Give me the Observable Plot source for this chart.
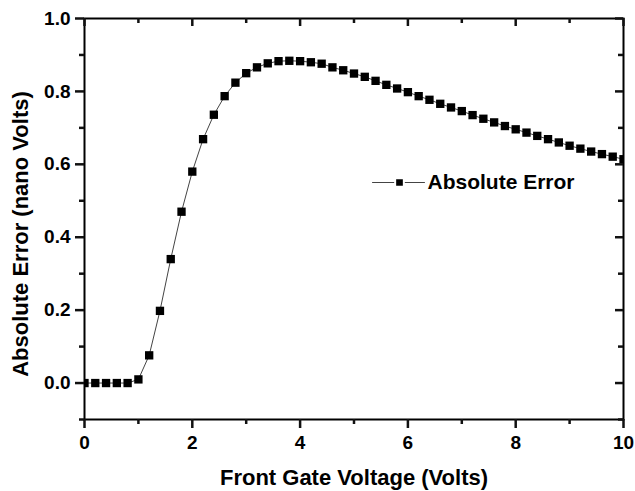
<!DOCTYPE html>
<html>
<head>
<meta charset="utf-8">
<script src="https://cdn.jsdelivr.net/npm/d3@7"></script>
<script src="https://cdn.jsdelivr.net/npm/@observablehq/plot@0.6"></script>
<style>
  html, body { margin: 0; padding: 0; background: #fff; }
  #chart { width: 635px; height: 491px; }
</style>
</head>
<body>
<div id="chart"></div>
<script>
// Front gate voltage (Volts)
const voltage = [0, 0.2, 0.4, 0.6, 0.8, 1.0, 1.2, 1.4, 1.6, 1.8, 2.0, 2.2, 2.4, 2.6, 2.8, 3.0, 3.2, 3.4, 3.6, 3.8,
  4.0, 4.2, 4.4, 4.6, 4.8, 5.0, 5.2, 5.4, 5.6, 5.8, 6.0, 6.2, 6.4, 6.6, 6.8, 7.0, 7.2, 7.4, 7.6, 7.8,
  8.0, 8.2, 8.4, 8.6, 8.8, 9.0, 9.2, 9.4, 9.6, 9.8, 10.0];
// Absolute error (nano Volts)
const absError = [0, 0, 0, 0, 0, 0.010, 0.076, 0.198, 0.340, 0.470, 0.580, 0.669, 0.736, 0.787, 0.824, 0.850, 0.866, 0.877, 0.883, 0.884,
  0.883, 0.880, 0.876, 0.866, 0.858, 0.849, 0.840, 0.829, 0.818, 0.808, 0.798, 0.787, 0.777, 0.766, 0.756, 0.746, 0.735, 0.725, 0.715, 0.705,
  0.696, 0.687, 0.678, 0.669, 0.660, 0.651, 0.643, 0.635, 0.628, 0.621, 0.614];

const xMajorTicks = [0, 2, 4, 6, 8, 10];
const xMinorTicks = [1, 3, 5, 7, 9];
const yMajorTicks = [0, 0.2, 0.4, 0.6, 0.8, 1.0];
const yMinorTicks = [-0.1, 0.1, 0.3, 0.5, 0.7, 0.9];

const xLabel = "Front Gate Voltage (Volts)";
const yLabel = "Absolute Error (nano Volts)";
const seriesName = "Absolute Error";

const data = voltage.map((v, i) => ({v, e: absError[i]}));

const W = 635, H = 491, ML = 84, MR = 12, MT = 18, MB = 72;
const FW = W - ML - MR, FH = H - MT - MB;

const font = "'Liberation Sans', Arial, Helvetica, sans-serif";
const lineShape = {draw(context, l) { context.moveTo(0, 0); context.lineTo(0, -l); }};
const tickStyle = {stroke: "#111", strokeWidth: 2.5, strokeLinecap: "butt"};

// tick rules: bottom/left outward, top/right inward
const bottomTicks = (vals, len) => Plot.ruleX(vals, {x: d => d, insetTop: FH, insetBottom: -len, ...tickStyle});
const topTicks = (vals, len) => Plot.ruleX(vals, {x: d => d, insetTop: 0, insetBottom: FH - len, ...tickStyle});
const leftTicks = (vals, len) => Plot.ruleY(vals, {y: d => d, insetLeft: -len, insetRight: FW, ...tickStyle});
const rightTicks = (vals, len) => Plot.ruleY(vals, {y: d => d, insetLeft: FW - len, insetRight: 0, ...tickStyle});

const chart = Plot.plot({
  width: W,
  height: H,
  marginLeft: ML,
  marginRight: MR,
  marginTop: MT,
  marginBottom: MB,
  style: {fontFamily: font, background: "#fff", color: "#000"},
  x: {domain: [0, 10], label: null},
  y: {domain: [-0.1, 1.0], label: null},
  marks: [
    Plot.line(data, {x: "v", y: "e", stroke: "#444", strokeWidth: 1}),
    Plot.dot(data, {x: "v", y: "e", symbol: "square", r: 4.7, fill: "#000", clip: true}),
    Plot.frame({stroke: "#000", strokeWidth: 2}),
    bottomTicks(xMajorTicks, 9),
    bottomTicks(xMinorTicks, 5),
    topTicks(xMajorTicks, 8),
    topTicks(xMinorTicks, 5),
    leftTicks(yMajorTicks, 9),
    leftTicks(yMinorTicks, 5),
    rightTicks(yMajorTicks, 8),
    rightTicks(yMinorTicks, 5),
    // tick labels
    Plot.axisX({anchor: "bottom", ticks: xMajorTicks, tickSize: 0, tickPadding: 16,
      fontSize: 19, fontWeight: "bold", tickFormat: d3.format("d"), label: null}),
    Plot.axisY({anchor: "left", ticks: yMajorTicks, tickSize: 0, tickPadding: 14,
      fontSize: 19, fontWeight: "bold", tickFormat: d3.format(".1f"), label: null}),
    // axis titles
    Plot.text([xLabel], {text: d => d, frameAnchor: "bottom", dy: 58, lineAnchor: "middle",
      fontSize: 22, fontWeight: "bold", fill: "#000"}),
    Plot.text([yLabel], {text: d => d, frameAnchor: "left", dx: -64, dy: 15, rotate: -90, lineAnchor: "middle",
      textAnchor: "middle", fontSize: 22, fontWeight: "bold", fill: "#000"}),
    // legend
    Plot.vector([seriesName], {frameAnchor: "top-left", dx: 288, dy: 164, length: 52, rotate: 90, anchor: "start",
      stroke: "#444", strokeWidth: 1, shape: lineShape}),
    Plot.dot([seriesName], {frameAnchor: "top-left", dx: 315, dy: 164, symbol: "square", r: 4.9,
      fill: "#000", stroke: "#fff", strokeWidth: 2}),
    Plot.text([seriesName], {text: d => d, frameAnchor: "top-left", dx: 343, dy: 164, textAnchor: "start",
      lineAnchor: "middle", fontSize: 21, fontWeight: "bold", fill: "#000"})
  ]
});

document.getElementById("chart").appendChild(chart);
</script>
</body>
</html>
